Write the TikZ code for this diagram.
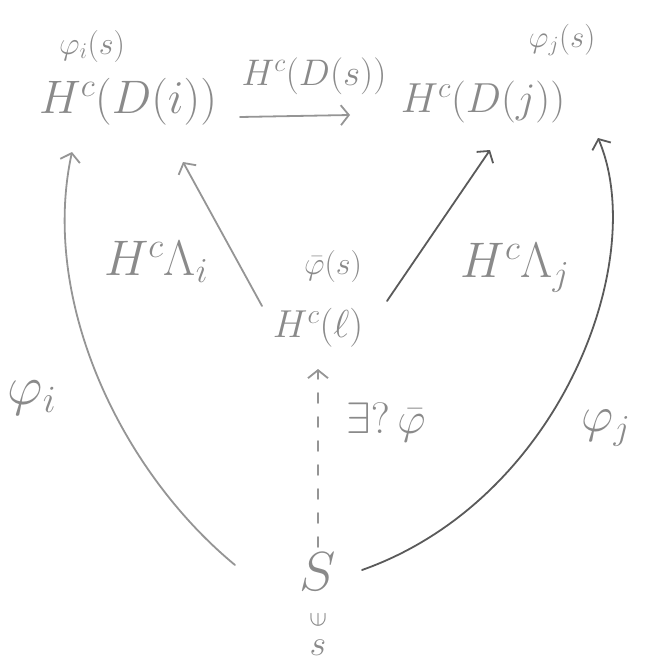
\RequirePackage{fix-cm}
\documentclass[tikz,border=0pt]{standalone}
\usepackage{graphicx}
\usetikzlibrary{arrows.meta,calc}
\definecolor{txt}{HTML}{8A8A8A}
\definecolor{lnA}{HTML}{959595}
\definecolor{lnB}{HTML}{5A5A5A}
\tikzset{
  lbl/.style={text=txt,inner sep=0pt},
  arr/.style={line width=1.8pt,-{Straight Barb[length=8pt,width=20pt,line width=1.8pt]},line cap=round},
}
\newcommand{\fsz}[1]{\fontsize{#1}{#1}\selectfont}
\begin{document}
\begin{tikzpicture}[x=1pt,y=-1pt]
\useasboundingbox (0,0) rectangle (649,664);
% nodes
\node[lbl,font=\fsz{47}] (Di) at (128,102) {$H^c(D(i))$};
\node[lbl,font=\fsz{42}] (Dj) at (483,102) {$H^c(D(j))$};
\node[lbl,font=\fsz{32}] (pis) at (92,46) {$\varphi_i(s)$};
\node[lbl,font=\fsz{31}] (pjs) at (562,40) {$\varphi_j(s)$};
\node[lbl,font=\fsz{39}] (L) at (318,328) {$H^c(\ell)$};
\node[lbl,font=\fsz{32}] (pbs) at (333,266) {$\bar\varphi(s)$};
\node[lbl,font=\fsz{55}] (S) at (318,572) {$S$};
\node[lbl,font=\fsz{26}] (in) at (318,620) {\rotatebox{90}{$\in$}};
\node[lbl,font=\fsz{36}] (s) at (318,648) {$s$};
% labels
\node[lbl,font=\fsz{50}] (li) at (156,262) {$H^c\Lambda_i$};
\node[lbl,font=\fsz{50}] (lj) at (515,268) {$H^c\Lambda_j$};
\node[lbl,font=\fsz{55}] (fi) at (32,398) {$\varphi_i$};
\node[lbl,font=\fsz{50}] (fj) at (606,428) {$\varphi_j$};
\node[lbl,font=\fsz{44}] (ex) at (386,422) {$\exists ?\,\bar\varphi$};
\node[lbl,font=\fsz{37}] (ds) at (314,76) {$H^c(D(s))$};
% arrows
\draw[arr,lnA] ($(Di)+(112,15)$) -- ($(Dj)+(-133,13)$);
\draw[arr,lnA] ($(L)+(-56,-22)$) -- ($(Di)+(55,60)$);
\draw[arr,lnB] ($(L)+(69,-27)$) -- ($(Dj)+(7,48)$);
\draw[arr,lnA,dash pattern=on 10pt off 14pt] ($(S)+(0,-25)$) -- ($(L)+(0,41)$);
\draw[arr,lnA] ($(S)+(-83,-7)$) .. controls (120,470) and (40,300) .. ($(Di)+(-56,50)$);
\draw[arr,lnB] ($(S)+(44,-2)$) .. controls (560,500) and (650,260) .. ($(Dj)+(115,36)$);
\end{tikzpicture}
\end{document}
